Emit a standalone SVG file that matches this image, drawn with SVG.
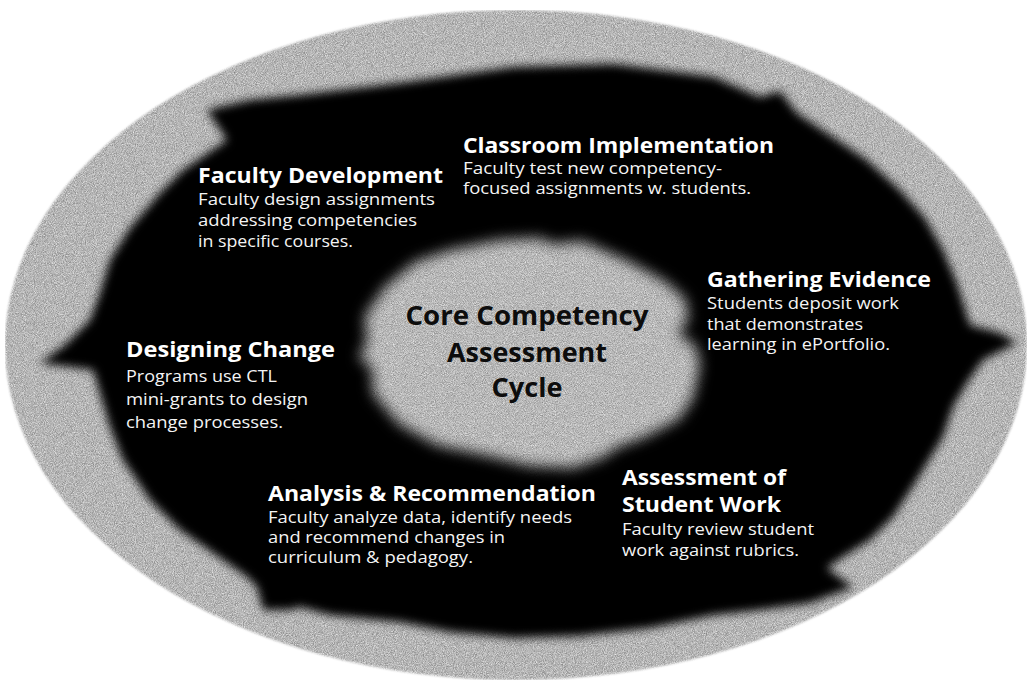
<svg xmlns="http://www.w3.org/2000/svg" width="1028" height="690" viewBox="0 0 1028 690">
  <style>
    .title { font-family: "Open Sans", "Noto Sans", sans-serif; font-weight: 700; font-size: 22px; fill: #ffffff; }
    .body { font-family: "Open Sans", "Noto Sans", sans-serif; font-weight: 400; font-size: 17px; fill: #f4f4f4; }
    .center { font-family: "Open Sans", "Noto Sans", sans-serif; font-weight: 700; font-size: 27px; fill: #0d0d0d; text-anchor: middle; }
  </style>
  <defs>
    <filter id="grain" x="0" y="0" width="100%" height="100%" color-interpolation-filters="sRGB">
      <feGaussianBlur in="SourceAlpha" stdDeviation="1.2" result="a"/>
      <feTurbulence type="fractalNoise" baseFrequency="1.1" numOctaves="2" seed="3" result="n"/>
      <feColorMatrix in="n" type="matrix" values="0.5 0 0 0 0.46  0.5 0 0 0 0.46  0.5 0 0 0 0.46  0 0 0 0 1" result="g"/>
      <feComposite in="g" in2="a" operator="in"/>
    </filter>
    <filter id="soft" x="-5%" y="-5%" width="110%" height="110%">
      <feGaussianBlur stdDeviation="5"/>
    </filter>
    <filter id="cloudf" x="-15%" y="-15%" width="130%" height="130%" color-interpolation-filters="sRGB">
      <feGaussianBlur in="SourceAlpha" stdDeviation="7" result="a"/>
      <feTurbulence type="fractalNoise" baseFrequency="1.1" numOctaves="2" seed="7" result="n"/>
      <feColorMatrix in="n" type="matrix" values="0.5 0 0 0 0.47  0.5 0 0 0 0.47  0.5 0 0 0 0.47  0 0 0 0 1" result="g"/>
      <feComposite in="g" in2="a" operator="in"/>
    </filter>
  </defs>

  <rect width="1028" height="690" fill="#ffffff"/>

  <g id="background">
    <ellipse cx="516" cy="345" rx="511" ry="335" fill="#b4b4b4" filter="url(#grain)"/>
  </g>

  <g id="connectors">
    <polygon filter="url(#soft)" fill="#000000" points="40,363 65,345 90,320 100,293 110,260 130,228 160,193 183,170 227,140 207,110 250,100 300,95 400,83 514,67 614,64 714,77 760,97 780,91 797,113 833,137 867,160 900,190 925,218 943,250 957,283 970,325 1000,333 1017,343 983,360 967,383 953,407 943,437 917,480 893,517 870,540 843,557 827,568 853,587 810,603 760,610 714,615 650,628 580,636 514,638 450,632 400,622 330,615 300,607 290,610 263,610 257,587 247,577 213,553 180,530 150,500 123,460 110,427 100,393 93,370"/>
  </g>

  <g id="core">
    <polygon filter="url(#cloudf)" fill="#b4b4b4" points="385,287 415,262 450,250 500,240 540,238 553,244 582,241 628,261 666,282 686,300 688,320 678,334 695,345 700,365 693,398 679,419 645,437 618,447 602,458 573,468 530,466 488,456 437,445 399,424 373,393 372,368 359,357 367,343 365,316"/>
    <text class="center" x="527" y="325" textLength="243" lengthAdjust="spacingAndGlyphs">Core Competency</text>
    <text class="center" x="527" y="362" textLength="160" lengthAdjust="spacingAndGlyphs">Assessment</text>
    <text class="center" x="527" y="397" textLength="71" lengthAdjust="spacingAndGlyphs">Cycle</text>
  </g>

  <g id="faculty-development">
    <text class="title" x="198" y="183" textLength="245" lengthAdjust="spacingAndGlyphs">Faculty Development</text>
    <text class="body" x="198" y="205" textLength="237" lengthAdjust="spacingAndGlyphs">Faculty design assignments</text>
    <text class="body" x="198" y="226" textLength="219" lengthAdjust="spacingAndGlyphs">addressing competencies</text>
    <text class="body" x="198" y="247" textLength="155" lengthAdjust="spacingAndGlyphs">in specific courses.</text>
  </g>

  <g id="classroom-implementation">
    <text class="title" x="463" y="153" textLength="311" lengthAdjust="spacingAndGlyphs">Classroom Implementation</text>
    <text class="body" x="463" y="174" textLength="259" lengthAdjust="spacingAndGlyphs">Faculty test new competency-</text>
    <text class="body" x="463" y="194" textLength="288" lengthAdjust="spacingAndGlyphs">focused assignments w. students.</text>
  </g>

  <g id="gathering-evidence">
    <text class="title" x="707" y="287" textLength="224" lengthAdjust="spacingAndGlyphs">Gathering Evidence</text>
    <text class="body" x="707" y="309" textLength="192" lengthAdjust="spacingAndGlyphs">Students deposit work</text>
    <text class="body" x="707" y="330" textLength="156" lengthAdjust="spacingAndGlyphs">that demonstrates</text>
    <text class="body" x="707" y="350" textLength="183" lengthAdjust="spacingAndGlyphs">learning in ePortfolio.</text>
  </g>

  <g id="designing-change">
    <text class="title" x="126" y="357" textLength="209" lengthAdjust="spacingAndGlyphs">Designing Change</text>
    <text class="body" x="126" y="382" textLength="151" lengthAdjust="spacingAndGlyphs">Programs use CTL</text>
    <text class="body" x="126" y="405" textLength="182" lengthAdjust="spacingAndGlyphs">mini-grants to design</text>
    <text class="body" x="126" y="428" textLength="157" lengthAdjust="spacingAndGlyphs">change processes.</text>
  </g>

  <g id="analysis-recommendation">
    <text class="title" x="268" y="501" textLength="328" lengthAdjust="spacingAndGlyphs">Analysis &amp; Recommendation</text>
    <text class="body" x="268" y="523" textLength="304" lengthAdjust="spacingAndGlyphs">Faculty analyze data, identify needs</text>
    <text class="body" x="268" y="543" textLength="237" lengthAdjust="spacingAndGlyphs">and recommend changes in</text>
    <text class="body" x="268" y="563" textLength="205" lengthAdjust="spacingAndGlyphs">curriculum &amp; pedagogy.</text>
  </g>

  <g id="assessment-student-work">
    <text class="title" x="622" y="485" textLength="164" lengthAdjust="spacingAndGlyphs">Assessment of</text>
    <text class="title" x="622" y="512" textLength="159" lengthAdjust="spacingAndGlyphs">Student Work</text>
    <text class="body" x="622" y="535" textLength="192" lengthAdjust="spacingAndGlyphs">Faculty review student</text>
    <text class="body" x="622" y="556" textLength="177" lengthAdjust="spacingAndGlyphs">work against rubrics.</text>
  </g>
</svg>
